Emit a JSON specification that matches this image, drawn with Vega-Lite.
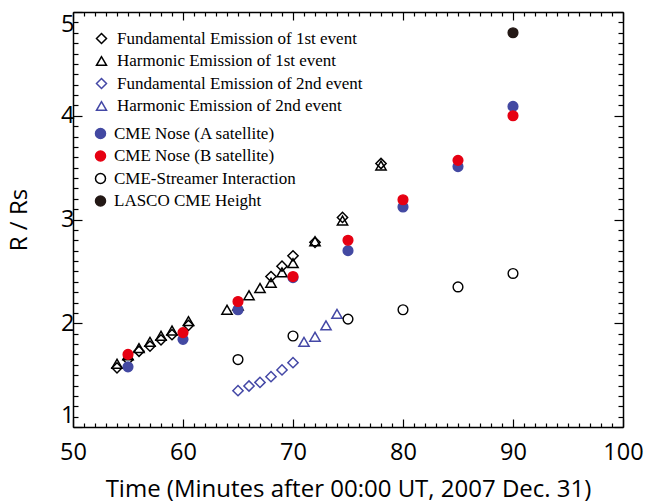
{
  "$schema": "https://vega.github.io/schema/vega-lite/v6.json",
  "width": 550,
  "height": 415,
  "autosize": {"type": "none"},
  "padding": {"left": 73, "top": 12, "right": 32, "bottom": 77},
  "background": "white",
  "config": {
    "view": {"stroke": null},
    "axis": {
      "grid": false,
      "domainColor": "black",
      "domainWidth": 1.5,
      "tickColor": "black",
      "tickWidth": 1.2,
      "labelFont": "Open Sans",
      "labelFontSize": 23.5,
      "labelColor": "black",
      "titleFont": "Open Sans",
      "titleFontSize": 24,
      "titleFontWeight": "normal",
      "titleColor": "black",
      "labelFlush": false,
      "labelOverlap": false
    },
    "legend": {
      "labelFont": "Liberation Serif",
      "labelFontSize": 17,
      "labelColor": "black",
      "labelLimit": 400,
      "padding": 0
    }
  },
  "datasets": {
    "emission": [
      {"series": "Fundamental Emission of 1st event", "t": 54, "r": 1.57},
      {"series": "Fundamental Emission of 1st event", "t": 55, "r": 1.65},
      {"series": "Fundamental Emission of 1st event", "t": 56, "r": 1.73},
      {"series": "Fundamental Emission of 1st event", "t": 57, "r": 1.78},
      {"series": "Fundamental Emission of 1st event", "t": 58, "r": 1.84},
      {"series": "Fundamental Emission of 1st event", "t": 59, "r": 1.89},
      {"series": "Fundamental Emission of 1st event", "t": 60.5, "r": 1.98},
      {"series": "Fundamental Emission of 1st event", "t": 68, "r": 2.45},
      {"series": "Fundamental Emission of 1st event", "t": 69, "r": 2.55},
      {"series": "Fundamental Emission of 1st event", "t": 70, "r": 2.65},
      {"series": "Fundamental Emission of 1st event", "t": 72, "r": 2.78},
      {"series": "Fundamental Emission of 1st event", "t": 74.5, "r": 3.02},
      {"series": "Fundamental Emission of 1st event", "t": 78, "r": 3.54},
      {"series": "Harmonic Emission of 1st event", "t": 54, "r": 1.61},
      {"series": "Harmonic Emission of 1st event", "t": 55, "r": 1.69},
      {"series": "Harmonic Emission of 1st event", "t": 56, "r": 1.76},
      {"series": "Harmonic Emission of 1st event", "t": 57, "r": 1.82},
      {"series": "Harmonic Emission of 1st event", "t": 58, "r": 1.88},
      {"series": "Harmonic Emission of 1st event", "t": 59, "r": 1.93},
      {"series": "Harmonic Emission of 1st event", "t": 60.5, "r": 2.02},
      {"series": "Harmonic Emission of 1st event", "t": 64, "r": 2.13},
      {"series": "Harmonic Emission of 1st event", "t": 65, "r": 2.17},
      {"series": "Harmonic Emission of 1st event", "t": 66, "r": 2.27},
      {"series": "Harmonic Emission of 1st event", "t": 67, "r": 2.34},
      {"series": "Harmonic Emission of 1st event", "t": 68, "r": 2.39},
      {"series": "Harmonic Emission of 1st event", "t": 69, "r": 2.49},
      {"series": "Harmonic Emission of 1st event", "t": 70, "r": 2.58},
      {"series": "Harmonic Emission of 1st event", "t": 72, "r": 2.79},
      {"series": "Harmonic Emission of 1st event", "t": 74.5, "r": 2.99},
      {"series": "Harmonic Emission of 1st event", "t": 78, "r": 3.52},
      {"series": "Fundamental Emission of 2nd event", "t": 65, "r": 1.35},
      {"series": "Fundamental Emission of 2nd event", "t": 66, "r": 1.395},
      {"series": "Fundamental Emission of 2nd event", "t": 67, "r": 1.43},
      {"series": "Fundamental Emission of 2nd event", "t": 68, "r": 1.485},
      {"series": "Fundamental Emission of 2nd event", "t": 69, "r": 1.55},
      {"series": "Fundamental Emission of 2nd event", "t": 70, "r": 1.62},
      {"series": "Harmonic Emission of 2nd event", "t": 71, "r": 1.82},
      {"series": "Harmonic Emission of 2nd event", "t": 72, "r": 1.87},
      {"series": "Harmonic Emission of 2nd event", "t": 73, "r": 1.98},
      {"series": "Harmonic Emission of 2nd event", "t": 74, "r": 2.09}
    ],
    "cme": [
      {"series": "CME Nose (A satellite)", "t": 55, "r": 1.58},
      {"series": "CME Nose (A satellite)", "t": 60, "r": 1.845},
      {"series": "CME Nose (A satellite)", "t": 65, "r": 2.13},
      {"series": "CME Nose (A satellite)", "t": 70, "r": 2.44},
      {"series": "CME Nose (A satellite)", "t": 75, "r": 2.7},
      {"series": "CME Nose (A satellite)", "t": 80, "r": 3.12},
      {"series": "CME Nose (A satellite)", "t": 85, "r": 3.51},
      {"series": "CME Nose (A satellite)", "t": 90, "r": 4.09},
      {"series": "CME Nose (B satellite)", "t": 55, "r": 1.7},
      {"series": "CME Nose (B satellite)", "t": 60, "r": 1.91},
      {"series": "CME Nose (B satellite)", "t": 65, "r": 2.21},
      {"series": "CME Nose (B satellite)", "t": 70, "r": 2.45},
      {"series": "CME Nose (B satellite)", "t": 75, "r": 2.8},
      {"series": "CME Nose (B satellite)", "t": 80, "r": 3.19},
      {"series": "CME Nose (B satellite)", "t": 85, "r": 3.57},
      {"series": "CME Nose (B satellite)", "t": 90, "r": 4.0},
      {"series": "CME-Streamer Interaction", "t": 65, "r": 1.65},
      {"series": "CME-Streamer Interaction", "t": 70, "r": 1.877},
      {"series": "CME-Streamer Interaction", "t": 75, "r": 2.04},
      {"series": "CME-Streamer Interaction", "t": 80, "r": 2.13},
      {"series": "CME-Streamer Interaction", "t": 85, "r": 2.35},
      {"series": "CME-Streamer Interaction", "t": 90, "r": 2.48},
      {"series": "LASCO CME Height", "t": 90, "r": 4.8}
    ]
  },
  "layer": [
    {
      "data": {"name": "emission"},
      "mark": {"type": "point", "filled": false, "strokeWidth": 1.5, "size": 105, "opacity": 1},
      "encoding": {
        "x": {
          "field": "t", "type": "quantitative",
          "scale": {"domain": [50, 100], "nice": false, "zero": false},
          "axis": {
            "orient": "bottom",
            "values": [50,51,52,53,54,55,56,57,58,59,60,61,62,63,64,65,66,67,68,69,70,71,72,73,74,75,76,77,78,79,80,81,82,83,84,85,86,87,88,89,90,91,92,93,94,95,96,97,98,99,100],
            "tickSize": {"condition": {"test": "datum.value % 10 === 0", "value": -8}, "value": -4},
            "labelExpr": "datum.value % 10 === 0 ? '' + datum.value : ''",
            "labelPadding": 21,
            "title": "Time (Minutes after 00:00 UT, 2007 Dec. 31)",
            "titlePadding": 10
          }
        },
        "y": {
          "field": "r", "type": "quantitative",
          "scale": {"domain": [1, 5], "nice": false, "zero": false},
          "axis": {
            "orient": "left",
            "values": [1,1.1,1.2,1.3,1.4,1.5,1.6,1.7,1.8,1.9,2,2.1,2.2,2.3,2.4,2.5,2.6,2.7,2.8,2.9,3,3.1,3.2,3.3,3.4,3.5,3.6,3.7,3.8,3.9,4,4.1,4.2,4.3,4.4,4.5,4.6,4.7,4.8,4.9,5],
            "tickSize": {"condition": {"test": "datum.value % 1 === 0", "value": -9}, "value": -5},
            "labelExpr": "datum.value % 1 === 0 ? '' + datum.value : ''",
            "labelFlush": true,
            "labelPadding": 8,
            "title": "R / Rs",
            "titlePadding": 29
          }
        },
        "shape": {
          "field": "series", "type": "nominal",
          "scale": {
            "domain": ["Fundamental Emission of 1st event", "Harmonic Emission of 1st event", "Fundamental Emission of 2nd event", "Harmonic Emission of 2nd event"],
            "range": ["diamond", "triangle-up", "diamond", "triangle-up"]
          },
          "legend": {"orient": "none", "legendX": 20, "legendY": 18, "title": null, "rowPadding": 4.5, "labelOffset": 7, "symbolSize": 100, "symbolStrokeWidth": 1.5}
        },
        "stroke": {
          "field": "series", "type": "nominal",
          "scale": {
            "domain": ["Fundamental Emission of 1st event", "Harmonic Emission of 1st event", "Fundamental Emission of 2nd event", "Harmonic Emission of 2nd event"],
            "range": ["#000000", "#000000", "#4448a6", "#4448a6"]
          },
          "legend": {"orient": "none", "legendX": 20, "legendY": 18, "title": null, "rowPadding": 4.5, "labelOffset": 7, "symbolSize": 100, "symbolStrokeWidth": 1.5}
        }
      }
    },
    {
      "data": {"name": "cme"},
      "mark": {"type": "point", "filled": true, "shape": "circle", "strokeWidth": 1.4, "size": 95, "opacity": 1},
      "encoding": {
        "x": {
          "field": "t", "type": "quantitative",
          "axis": {
            "orient": "top",
            "values": [50,51,52,53,54,55,56,57,58,59,60,61,62,63,64,65,66,67,68,69,70,71,72,73,74,75,76,77,78,79,80,81,82,83,84,85,86,87,88,89,90,91,92,93,94,95,96,97,98,99,100],
            "tickSize": {"condition": {"test": "datum.value % 10 === 0", "value": -8}, "value": -4},
            "labels": false,
            "title": null
          }
        },
        "y": {
          "field": "r", "type": "quantitative",
          "axis": {
            "orient": "right",
            "values": [1,1.1,1.2,1.3,1.4,1.5,1.6,1.7,1.8,1.9,2,2.1,2.2,2.3,2.4,2.5,2.6,2.7,2.8,2.9,3,3.1,3.2,3.3,3.4,3.5,3.6,3.7,3.8,3.9,4,4.1,4.2,4.3,4.4,4.5,4.6,4.7,4.8,4.9,5],
            "tickSize": {"condition": {"test": "datum.value % 1 === 0", "value": -9}, "value": -5},
            "labels": false,
            "title": null
          }
        },
        "fill": {
          "field": "series", "type": "nominal",
          "scale": {
            "domain": ["CME Nose (A satellite)", "CME Nose (B satellite)", "CME-Streamer Interaction", "LASCO CME Height"],
            "range": ["#4349a2", "#e60012", "transparent", "#231815"]
          },
          "legend": {"orient": "none", "legendX": 19, "legendY": 113, "title": null, "rowPadding": 4.5, "labelOffset": 5, "symbolSize": 100, "symbolStrokeWidth": 1.5}
        },
        "stroke": {
          "field": "series", "type": "nominal",
          "scale": {
            "domain": ["CME Nose (A satellite)", "CME Nose (B satellite)", "CME-Streamer Interaction", "LASCO CME Height"],
            "range": ["#4349a2", "#e60012", "#000000", "#231815"]
          },
          "legend": {"orient": "none", "legendX": 19, "legendY": 113, "title": null, "rowPadding": 4.5, "labelOffset": 5, "symbolSize": 100, "symbolStrokeWidth": 1.5}
        }
      }
    }
  ],
  "resolve": {
    "axis": {"x": "independent", "y": "independent"},
    "scale": {"shape": "independent", "stroke": "independent", "fill": "independent"}
  }
}
